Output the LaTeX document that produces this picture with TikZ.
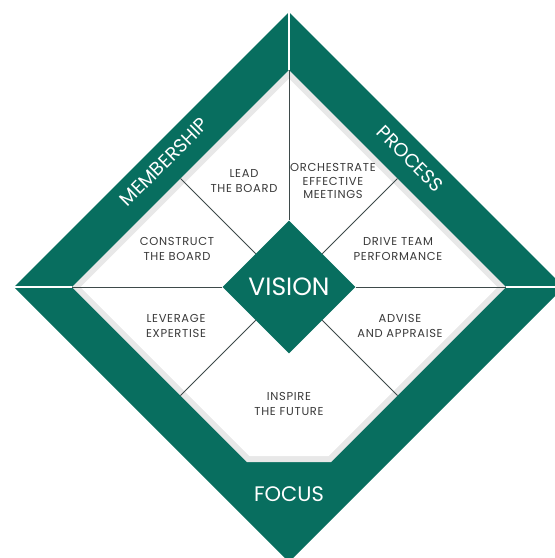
\documentclass[tikz,border=0pt]{standalone}
\usepackage{fontspec}
\setmainfont{Poppins}
\usetikzlibrary{shapes.geometric}
\definecolor{boardgreen}{RGB}{8,110,95}
\definecolor{labelgray}{RGB}{58,58,58}
\definecolor{shadowgray}{RGB}{232,232,232}
\definecolor{spokegray}{RGB}{62,74,74}
\tikzset{
  gap/.style={draw=white,line width=2pt},
  spoke/.style={draw=spokegray,line width=0.8pt},
  quality/.style={text=labelgray,align=center,
    font=\fontsize{11.5}{15.5}\selectfont\addfontfeatures{LetterSpace=6}},
  banner/.style={text=white,font=\fontsize{19}{19}\selectfont},
}

\begin{document}
\begin{tikzpicture}[x=1pt,y=-1pt]
  \useasboundingbox (0,0) rectangle (555,558);
  \clip (0,0) rectangle (555,558);

  % green frame, then the field with its shadow
  \fill[boardgreen] (289,12) -- (564,287) -- (289,562) -- (14,287) -- cycle;
  \fill[shadowgray] (289,70) -- (506,287) -- (331,462) -- (247,462) -- (72,287) -- cycle;
  \fill[white] (289,78.5) -- (497.5,287) -- (328.5,456) -- (249.5,456) -- (80.5,287) -- cycle;

  \coordinate (top) at (289,70);
  \coordinate (left) at (72,287);
  \coordinate (right) at (506,287);
  \coordinate (tl) at (180.5,178.5);
  \coordinate (tr) at (397.5,178.5);
  \coordinate (bl) at (180.5,395.5);
  \coordinate (br) at (397.5,395.5);

  \draw[gap] (289,12) -- (top);
  \draw[gap] (14,287) -- (left);
  \draw[gap] (564,287) -- (right);

  \node[diamond,fill=boardgreen,minimum width=133pt,minimum height=133pt,inner sep=0pt,
        text=white,font=\fontsize{25}{25}\selectfont] (vision) at (289,287) {VISION};

  \draw[spoke] (vision.north) -- (top);
  \draw[spoke] (vision.west) -- (left);
  \draw[spoke] (vision.east) -- (right);
  \draw[spoke] (vision.135) -- (tl);
  \draw[spoke] (vision.45) -- (tr);
  \draw[spoke] (vision.225) -- (bl);
  \draw[spoke] (vision.315) -- (br);

  \node[quality] (lead) at (244,181) {LEAD\\THE BOARD};
  \node[quality,font=\fontsize{11.5}{13.8}\selectfont\addfontfeatures{LetterSpace=6}]
    (orchestrate) at (333,181) {ORCHESTRATE\\EFFECTIVE\\MEETINGS};
  \node[quality] (construct) at (177,249) {CONSTRUCT\\THE BOARD};
  \node[quality] (drive) at (398,249) {DRIVE TEAM\\PERFORMANCE};
  \node[quality] (leverage) at (176,326) {LEVERAGE\\EXPERTISE};
  \node[quality] (advise) at (400,326) {ADVISE\\AND APPRAISE};
  \node[quality] (inspire) at (289,404) {INSPIRE\\THE FUTURE};

  \node[banner,rotate=45] (membership) at (164,162) {MEMBERSHIP};
  \node[banner,rotate=-45] (process) at (410,159) {PROCESS};
  \node[banner,font=\fontsize{21}{21}\selectfont] (focus) at (289,494) {FOCUS};
\end{tikzpicture}
\end{document}
